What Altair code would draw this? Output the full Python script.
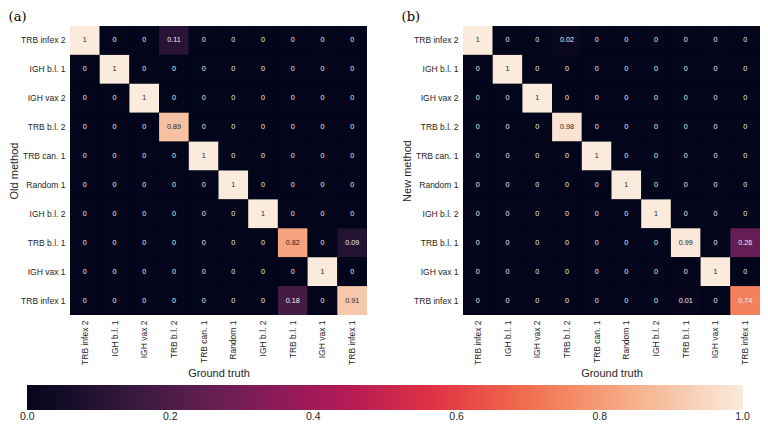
import altair as alt
import pandas as pd

categories = ["TRB infex 2", "IGH b.l. 1", "IGH vax 2", "TRB b.l. 2", "TRB can. 1",
              "Random 1", "IGH b.l. 2", "TRB b.l. 1", "IGH vax 1", "TRB infex 1"]

old_method = [
    [1, 0, 0, 0.11, 0, 0, 0, 0, 0, 0],
    [0, 1, 0, 0, 0, 0, 0, 0, 0, 0],
    [0, 0, 1, 0, 0, 0, 0, 0, 0, 0],
    [0, 0, 0, 0.89, 0, 0, 0, 0, 0, 0],
    [0, 0, 0, 0, 1, 0, 0, 0, 0, 0],
    [0, 0, 0, 0, 0, 1, 0, 0, 0, 0],
    [0, 0, 0, 0, 0, 0, 1, 0, 0, 0],
    [0, 0, 0, 0, 0, 0, 0, 0.82, 0, 0.09],
    [0, 0, 0, 0, 0, 0, 0, 0, 1, 0],
    [0, 0, 0, 0, 0, 0, 0, 0.18, 0, 0.91],
]

new_method = [
    [1, 0, 0, 0.02, 0, 0, 0, 0, 0, 0],
    [0, 1, 0, 0, 0, 0, 0, 0, 0, 0],
    [0, 0, 1, 0, 0, 0, 0, 0, 0, 0],
    [0, 0, 0, 0.98, 0, 0, 0, 0, 0, 0],
    [0, 0, 0, 0, 1, 0, 0, 0, 0, 0],
    [0, 0, 0, 0, 0, 1, 0, 0, 0, 0],
    [0, 0, 0, 0, 0, 0, 1, 0, 0, 0],
    [0, 0, 0, 0, 0, 0, 0, 0.99, 0, 0.26],
    [0, 0, 0, 0, 0, 0, 0, 0, 1, 0],
    [0, 0, 0, 0, 0, 0, 0, 0.01, 0, 0.74],
]

# colorbar tick values; the end ticks are nudged a hair inside the domain so that
# their labels are centred under the ends of the bar as in the reference
colorbar_ticks = [0.0005, 0.2, 0.4, 0.6, 0.8, 0.9995]

rocket_stops = [0.0, 1 / 7, 2 / 7, 3 / 7, 4 / 7, 5 / 7, 6 / 7, 1.0]
rocket_colors = ["#03051a", "#35193e", "#701f57", "#ad1759", "#e13342",
                 "#f37651", "#f6b48f", "#faebdd"]


def to_frame(matrix):
    rows = []
    for i, method in enumerate(categories):
        for j, truth in enumerate(categories):
            v = matrix[i][j]
            rows.append({"method": method, "truth": truth, "value": v,
                         "label": f"{v:.2g}"})
    return pd.DataFrame(rows)


color_scale = alt.Scale(domain=rocket_stops, range=rocket_colors, interpolate="rgb")

legend = alt.Legend(
    title=None, orient="none", direction="horizontal",
    legendX=-43, legendY=359,
    gradientLength=716, gradientThickness=25, gradientStrokeWidth=0,
    values=colorbar_ticks, format=".1f", labelFontSize=10.5, labelColor="#262626",
    labelAlign="center", labelOffset=2, labelOverlap=False, labelFont="Liberation Sans",
)


def heatmap(matrix, panel_title, y_title):
    df = to_frame(matrix)
    base = alt.Chart(df).encode(
        x=alt.X("truth:N", sort=categories, title="Ground truth",
                scale=alt.Scale(paddingInner=0, paddingOuter=0),
                axis=alt.Axis(labelAngle=270, labelPadding=5, ticks=False, domain=False,
                              titlePadding=3)),
        y=alt.Y("method:N", sort=categories, title=y_title,
                scale=alt.Scale(paddingInner=0, paddingOuter=0),
                axis=alt.Axis(labelPadding=5, ticks=False, domain=False, titlePadding=1)),
    )
    rect = base.mark_rect().encode(
        color=alt.Color("value:Q", scale=color_scale, legend=legend),
    )
    text = base.mark_text(fontSize=7.2, font="Liberation Sans").encode(
        text="label:N",
        color=alt.condition(alt.datum.value >= 0.8, alt.value("#262626"), alt.value("#f0f0f0")),
    )
    return (rect + text).properties(
        width=297, height=289,
        title=alt.Title(panel_title, anchor="start", font="DejaVu Serif", fontSize=13,
                        fontWeight="normal", color="#000000", offset=2),
    )


left = heatmap(old_method, "(a)", "Old method")
right = heatmap(new_method, "(b)", "New method")

chart = alt.hconcat(left, right, spacing=34).resolve_scale(color="shared").properties(
    padding={"top": 3, "left": 0, "right": 0, "bottom": 0}
).configure_view(stroke=None, fill="#03051a").configure_axis(
    labelFont="Liberation Sans", labelFontSize=8.5, labelColor="#262626",
    titleFont="Liberation Sans", titleFontSize=11, titleFontWeight="normal", titleColor="#262626",
)

chart.save("out.html", embed_options={"renderer": "svg", "actions": False})
